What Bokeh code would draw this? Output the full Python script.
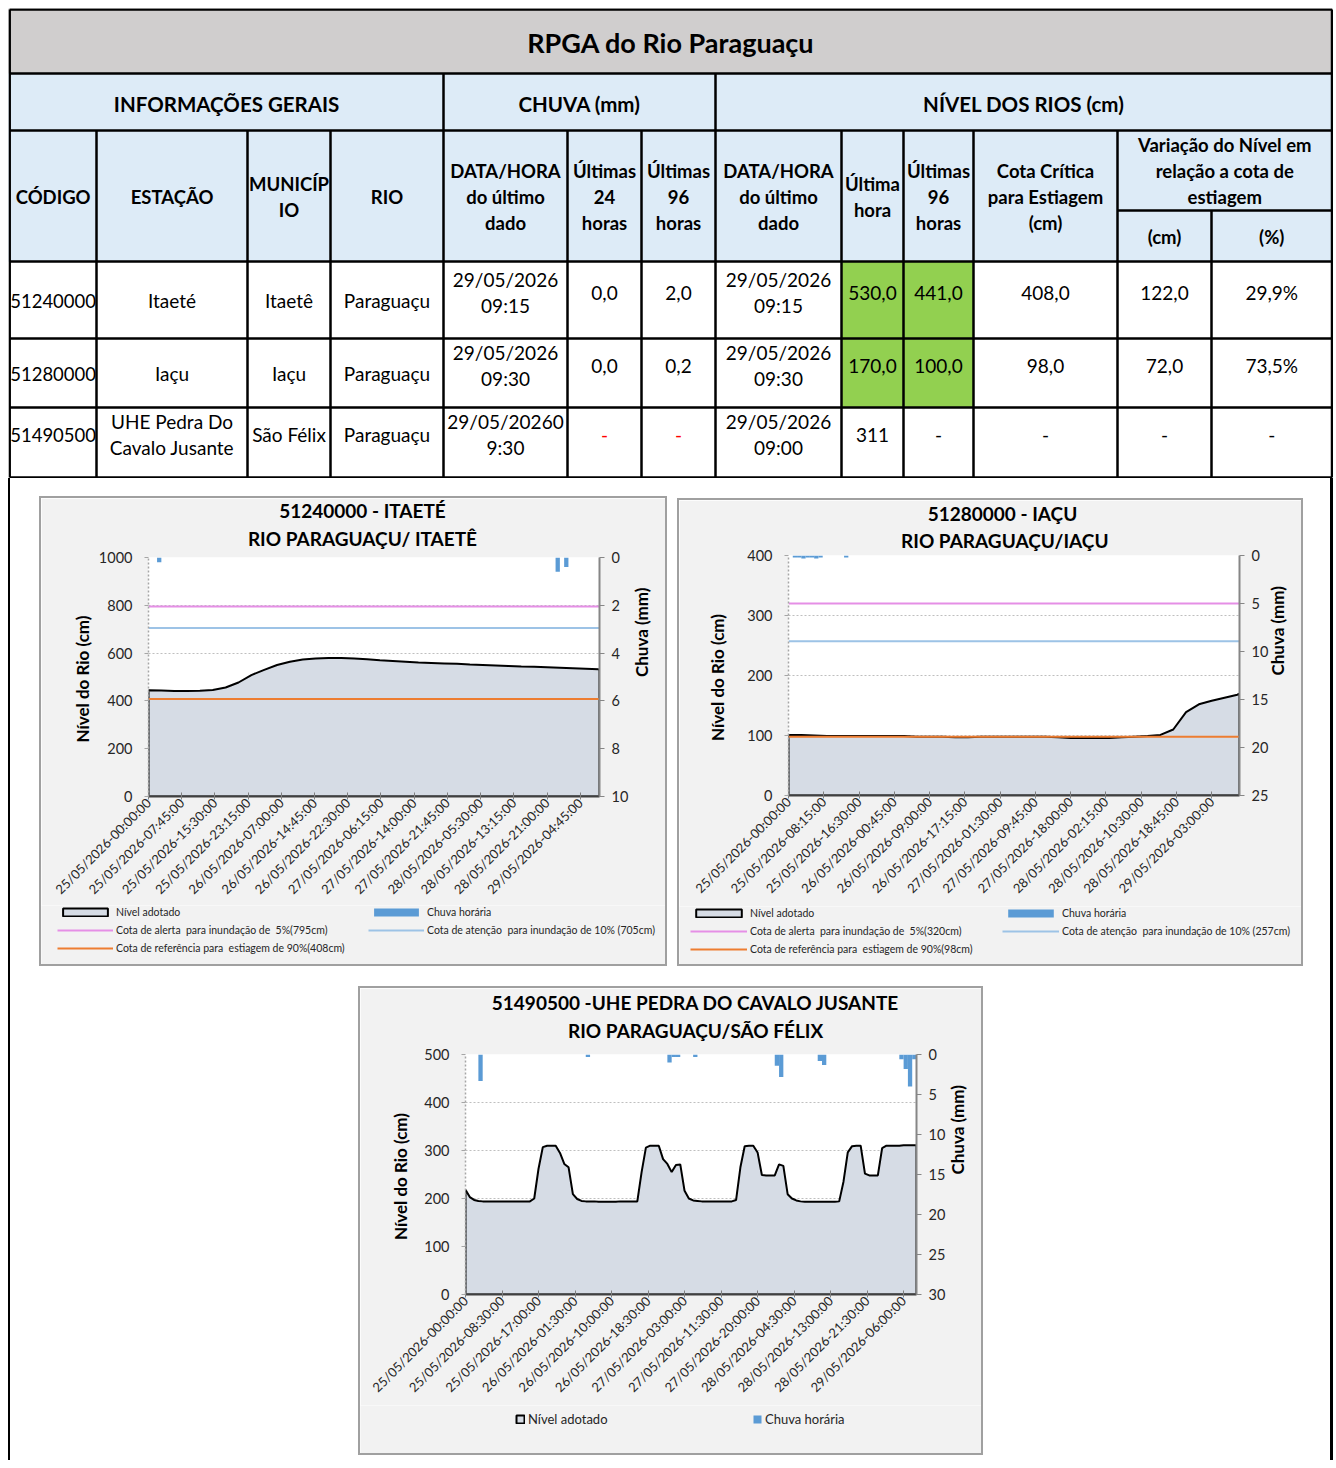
import math
from datetime import datetime

from bokeh.plotting import figure
from bokeh.models import (Range1d, LinearAxis, FixedTicker, Legend, LegendItem,
                          Title, Div, Spacer)
from bokeh.layouts import column, row
from bokeh.core.properties import value
from bokeh.embed import file_html
from bokeh.resources import INLINE

FONT = "Lato"
NB = "\u00a0"

# ---------------- table data ----------------
TABLE_TITLE = "RPGA do Rio Paraguaçu"
SECTIONS = ["INFORMAÇÕES GERAIS", "CHUVA (mm)", "NÍVEL DOS RIOS (cm)"]
HEADERS = ["CÓDIGO", "ESTAÇÃO", "MUNICÍP\nIO", "RIO", "DATA/HORA\ndo último\ndado",
           "Últimas\n24\nhoras", "Últimas\n96\nhoras", "DATA/HORA\ndo último\ndado",
           "Última\nhora", "Últimas\n96\nhoras", "Cota Crítica\npara Estiagem\n(cm)"]
VAR_HEADER = "Variação do Nível em\nrelação a cota de\nestiagem"
VAR_SUB = ["(cm)", "(%)"]
CODES = ["51240000", "51280000", "51490500"]
STATIONS = ["Itaeté", "Iaçu", "UHE Pedra Do\nCavalo Jusante"]
CITIES = ["Itaetê", "Iaçu", "São Félix"]
RIVERS = ["Paraguaçu", "Paraguaçu", "Paraguaçu"]
RAIN_TIME = ["29/05/2026\n09:15", "29/05/2026\n09:30", "29/05/20260\n9:30"]
RAIN_24H = ["0,0", "0,0", "-"]
RAIN_96H = ["2,0", "0,2", "-"]
LEVEL_TIME = ["29/05/2026\n09:15", "29/05/2026\n09:30", "29/05/2026\n09:00"]
LEVEL_LAST = ["530,0", "170,0", "311"]
LEVEL_96H = ["441,0", "100,0", "-"]
COTA_CRIT = ["408,0", "98,0", "-"]
VAR_CM = ["122,0", "72,0", "-"]
VAR_PCT = ["29,9%", "73,5%", "-"]
GREEN_ROWS = [0, 1]

# ---------------- chart data ----------------
START = "25/05/2026-00:00:00"

C1_TITLE = ["51240000 - ITAETÉ", "RIO PARAGUAÇU/ ITAETÊ"]
C1_TICKS = ["25/05/2026-00:00:00", "25/05/2026-07:45:00", "25/05/2026-15:30:00",
            "25/05/2026-23:15:00", "26/05/2026-07:00:00", "26/05/2026-14:45:00",
            "26/05/2026-22:30:00", "27/05/2026-06:15:00", "27/05/2026-14:00:00",
            "27/05/2026-21:45:00", "28/05/2026-05:30:00", "28/05/2026-13:15:00",
            "28/05/2026-21:00:00", "29/05/2026-04:45:00"]
C1_LAST_TIME = "29/05/2026-09:15:00"
C1_LEVEL_3H = [445, 443, 441, 441, 442, 446, 456, 477, 508, 530,
               550, 564, 573, 577, 579, 579, 577, 574, 570, 567,
               564, 561, 559, 557, 555, 552, 550, 548, 546, 544,
               543, 541, 539, 537, 535, 532]
C1_LEVEL_LAST = 530
C1_RAIN_HOUR = [2, 95, 97]
C1_RAIN_MM = [0.2, 0.6, 0.4]
C1_REF = [795, 705, 408]
C1_REF_LABELS = ["Cota de alerta  para inundação de  5%(795cm)",
                 "Cota de atenção  para inundação de 10% (705cm)",
                 "Cota de referência para  estiagem de 90%(408cm)"]

C2_TITLE = ["51280000 - IAÇU", "RIO PARAGUAÇU/IAÇU"]
C2_TICKS = ["25/05/2026-00:00:00", "25/05/2026-08:15:00", "25/05/2026-16:30:00",
            "26/05/2026-00:45:00", "26/05/2026-09:00:00", "26/05/2026-17:15:00",
            "27/05/2026-01:30:00", "27/05/2026-09:45:00", "27/05/2026-18:00:00",
            "28/05/2026-02:15:00", "28/05/2026-10:30:00", "28/05/2026-18:45:00",
            "29/05/2026-03:00:00"]
C2_LAST_TIME = "29/05/2026-09:30:00"
C2_LEVEL_3H = [101, 101, 100, 99, 99, 99, 99, 99, 99, 99,
               98, 98, 98, 97, 97, 98, 98, 98, 98, 98,
               98, 97, 96, 96, 96, 96, 97, 98, 99, 101,
               110, 139, 152, 158, 163, 168]
C2_LEVEL_LAST = 170
C2_RAIN_HOUR = [1, 2, 3, 4, 5, 6, 7, 13]
C2_RAIN_MM = [0.2, 0.2, 0.3, 0.2, 0.2, 0.3, 0.2, 0.2]
C2_REF = [320, 257, 98]
C2_REF_LABELS = ["Cota de alerta  para inundação de  5%(320cm)",
                 "Cota de atenção  para inundação de 10% (257cm)",
                 "Cota de referência para  estiagem de 90%(98cm)"]

C3_TITLE = ["51490500 -UHE PEDRA DO CAVALO JUSANTE", "RIO PARAGUAÇU/SÃO FÉLIX"]
C3_TICKS = ["25/05/2026-00:00:00", "25/05/2026-08:30:00", "25/05/2026-17:00:00",
            "26/05/2026-01:30:00", "26/05/2026-10:00:00", "26/05/2026-18:30:00",
            "27/05/2026-03:00:00", "27/05/2026-11:30:00", "27/05/2026-20:00:00",
            "28/05/2026-04:30:00", "28/05/2026-13:00:00", "28/05/2026-21:30:00",
            "29/05/2026-06:00:00"]
C3_LEVEL_1H = [218, 203, 197, 195, 194, 194, 194, 194, 194, 194, 194, 194, 194, 194, 194, 194,
               200, 262, 307, 310, 310, 310, 295, 272,
               265, 209, 199, 195, 194, 194, 194, 193,
               193, 193, 193, 193, 194, 194, 194, 194,
               194, 255, 306, 310, 310, 310, 282, 272,
               255, 270, 271, 216, 200, 196, 195, 194,
               194, 194, 194, 194, 194, 194, 194, 197,
               265, 309, 310, 310, 296, 249, 248, 248,
               248, 271, 268, 209, 200, 196, 194, 193,
               193, 193, 193, 193, 193, 193, 193, 194,
               235, 296, 309, 310, 310, 252, 248, 248,
               248, 305, 310, 310, 310, 310, 311, 311,
               311, 311]
C3_RAIN_HOUR = [3, 28, 47, 48, 49, 53, 72, 73, 82, 83, 101, 102, 103, 104]
C3_RAIN_MM = [3.3, 0.3, 1.0, 0.3, 0.3, 0.3, 1.4, 2.8, 0.8, 1.3, 0.6, 1.8, 4.0, 0.6]

LEGEND_LEVEL = "Nível adotado"
LEGEND_RAIN = "Chuva horária"

# ---------------- styles ----------------
AREA_FILL = "#d6dce5"
RAIN_BLUE = "#5b9bd5"
REF_COLORS = ["#e58fe6", "#9dc3e6", "#ed7d31"]
CHART_BG = "#f2f2f2"
CHART_BORDER = {"border": "2px solid #a0a0a0"}

T0 = datetime.strptime(START, "%d/%m/%Y-%H:%M:%S")


def steps_from(label):
    dt = datetime.strptime(label, "%d/%m/%Y-%H:%M:%S")
    return int(round((dt - T0).total_seconds() / 900.0))


def no_align(fig):
    try:
        fig.frame_align = False
    except Exception:
        pass


def shifted(text, n):
    """pad with non-breaking spaces: n<0 shifts the centred text left, n>0 right"""
    return (NB * n + text) if n > 0 else (text + NB * (-n))


# ====================== TABLE ======================
TW, TH = 1325, 470
tb = figure(width=TW, height=TH, x_range=Range1d(0, TW), y_range=Range1d(TH, 0),
            x_axis_type=None, y_axis_type=None, min_border=0,
            toolbar_location=None, output_backend="svg", outline_line_color=None,
            background_fill_color="white", border_fill_color="white")
no_align(tb)

XB = [1.2, 88, 239, 322, 435, 559, 633, 707, 833, 895, 965, 1109, 1203, 1323.5]
YB = [1, 65, 122, 253, 330, 399, 469]
Y_SUB = 202

tb.quad(left=[0], right=[TW], top=[0], bottom=[YB[1]], color="#d0cece")
tb.quad(left=[0], right=[TW], top=[YB[1]], bottom=[YB[3]], color="#ddebf7")
for r in GREEN_ROWS:
    tb.quad(left=[XB[8], XB[9]], right=[XB[9], XB[10]],
            top=[YB[3 + r]] * 2, bottom=[YB[4 + r]] * 2, color="#92d050")

sx0, sy0, sx1, sy1 = [], [], [], []
for y in YB:
    sx0.append(XB[0]); sx1.append(XB[-1]); sy0.append(y); sy1.append(y)
sx0.append(XB[11]); sx1.append(XB[-1]); sy0.append(Y_SUB); sy1.append(Y_SUB)
for x in (XB[0], XB[-1]):
    sx0.append(x); sx1.append(x); sy0.append(YB[0]); sy1.append(YB[-1])
for x in (XB[4], XB[7]):
    sx0.append(x); sx1.append(x); sy0.append(YB[1]); sy1.append(YB[2])
for x in XB[1:12]:
    sx0.append(x); sx1.append(x); sy0.append(YB[2]); sy1.append(YB[-1])
sx0.append(XB[12]); sx1.append(XB[12]); sy0.append(Y_SUB); sy1.append(YB[-1])
tb.segment(x0=sx0, y0=sy0, x1=sx1, y1=sy1, line_color="black", line_width=2.5)


def cell(x, y, s, size, bold=False, align="center", color="black", lh=26):
    lines = s.split("\n")
    n = len(lines)
    for k, ln in enumerate(lines):
        tb.text(x=[x], y=[y + (k - (n - 1) / 2) * lh], text=[ln],
                text_font=value(FONT), text_font_size=size,
                text_font_style="bold" if bold else "normal",
                text_align=align, text_baseline="middle", text_color=color)


CX = [(XB[i] + XB[i + 1]) / 2 for i in range(len(XB) - 1)]
cell((XB[0] + XB[-1]) / 2, 34, TABLE_TITLE, "27px", bold=True)
cell((XB[0] + XB[4]) / 2, 95, SECTIONS[0], "20.5px", bold=True)
cell((XB[4] + XB[7]) / 2, 95, SECTIONS[1], "20.5px", bold=True)
cell((XB[7] + XB[-1]) / 2, 95, SECTIONS[2], "20.5px", bold=True)
for i, h in enumerate(HEADERS):
    cell(CX[i], 188, h, "18.5px", bold=True)
cell((XB[11] + XB[-1]) / 2, 162, VAR_HEADER, "18.5px", bold=True)
cell(CX[11], 228, VAR_SUB[0], "18.5px", bold=True)
cell(CX[12], 228, VAR_SUB[1], "18.5px", bold=True)

Y_LAB = [292, 365, 426]
Y_NUM = [284, 357, 426]
for r in range(3):
    cell(XB[0] + 0.5, Y_LAB[r], CODES[r], "18.5px", align="left")
    cell(CX[1], Y_LAB[r], STATIONS[r], "19px")
    cell(CX[2], Y_LAB[r], CITIES[r], "19px")
    cell(CX[3], Y_LAB[r], RIVERS[r], "19px")
    cell(CX[4], Y_NUM[r], RAIN_TIME[r], "19px")
    cell(CX[5], Y_NUM[r], RAIN_24H[r], "19px", color="red" if RAIN_24H[r] == "-" else "black")
    cell(CX[6], Y_NUM[r], RAIN_96H[r], "19px", color="red" if RAIN_96H[r] == "-" else "black")
    cell(CX[7], Y_NUM[r], LEVEL_TIME[r], "19px")
    cell(CX[8], Y_NUM[r], LEVEL_LAST[r], "19px")
    cell(CX[9], Y_NUM[r], LEVEL_96H[r], "19px")
    cell(CX[10], Y_NUM[r], COTA_CRIT[r], "19px")
    cell(CX[11], Y_NUM[r], VAR_CM[r], "19px")
    cell(CX[12], Y_NUM[r], VAR_PCT[r], "19px")


# ====================== CHARTS ======================
def make_chart(W, H, mb, LH, titles, tshift, tstand, ticks, lx, ly, end_x, ymax, ystep,
               rmax, rstep, rain_h, rain_mm, refs, ref_labels, lstand, rstand, legends):
    p = figure(width=W, height=H, x_range=Range1d(0, end_x), y_range=Range1d(0, ymax),
               output_backend="svg", toolbar_location=None,
               min_border_left=mb[0], min_border_right=mb[1],
               min_border_top=mb[2], min_border_bottom=mb[3],
               border_fill_color=CHART_BG, background_fill_color="white",
               outline_line_color=None)
    no_align(p)
    p.extra_y_ranges = {"rain": Range1d(rmax, 0)}

    # titles
    p.title.text = shifted(titles[0], tshift[0])
    p.title.align = "center"
    p.title.text_font = FONT
    p.title.text_font_size = "19px"
    p.title.text_font_style = "bold"
    p.title.text_color = "black"
    p.title.standoff = tstand[0]
    p.add_layout(Title(text=shifted(titles[1], tshift[1]), align="center", text_font=FONT,
                       text_font_size="19px", text_font_style="bold", text_color="black",
                       standoff=tstand[1]), "above")

    # x axis
    xa = p.xaxis[0]
    tpos = [steps_from(t) for t in ticks]
    xa.ticker = FixedTicker(ticks=tpos)
    xa.major_label_overrides = {k: t for k, t in zip(tpos, ticks)}
    xa.major_label_orientation = math.pi / 4
    xa.major_label_text_font = FONT
    xa.major_label_text_font_size = "13px"
    xa.major_label_text_color = "#262626"
    xa.major_label_standoff = 1
    xa.axis_line_color = "#404040"
    xa.axis_line_width = 2
    xa.major_tick_line_color = "#7f7f7f"
    xa.major_tick_in = 4
    xa.major_tick_out = 3
    xa.minor_tick_line_color = None
    p.xgrid.visible = False

    # left axis
    ya = p.yaxis[0]
    ya.ticker = FixedTicker(ticks=list(range(0, ymax + 1, ystep)))
    ya.axis_label = "Nível do Rio  (cm)"
    ya.axis_label_text_font = FONT
    ya.axis_label_text_font_size = "17px"
    ya.axis_label_text_font_style = "bold"
    ya.axis_label_text_color = "black"
    ya.axis_label_standoff = lstand
    ya.major_label_text_font = FONT
    ya.major_label_text_font_size = "14.5px"
    ya.major_label_text_color = "#262626"
    ya.major_label_standoff = 12
    ya.axis_line_color = "#a6a6a6"
    ya.axis_line_dash = "2 2"
    ya.axis_line_width = 1.5
    ya.major_tick_line_color = "#a6a6a6"
    ya.major_tick_in = 0
    ya.major_tick_out = 4
    ya.minor_tick_line_color = None
    p.ygrid.ticker = ya.ticker
    p.ygrid.grid_line_color = "#bfbfbf"
    p.ygrid.grid_line_dash = "2 2"
    p.ygrid.grid_line_width = 1.2

    # right axis (rain, inverted)
    ra = LinearAxis(y_range_name="rain", ticker=FixedTicker(ticks=list(range(0, rmax + 1, rstep))),
                    axis_label="Chuva (mm)")
    ra.axis_label_text_font = FONT
    ra.axis_label_text_font_size = "17px"
    ra.axis_label_text_font_style = "bold"
    ra.axis_label_text_color = "black"
    ra.axis_label_standoff = rstand
    ra.major_label_text_font = FONT
    ra.major_label_text_font_size = "14.5px"
    ra.major_label_text_color = "#262626"
    ra.major_label_standoff = 7
    ra.axis_line_color = "#868686"
    ra.axis_line_width = 2
    ra.major_tick_line_color = "#868686"
    ra.major_tick_in = 0
    ra.major_tick_out = 5
    ra.minor_tick_line_color = None
    try:
        ra.axis_label_orientation = math.pi / 2
    except Exception:
        pass
    p.add_layout(ra, "right")

    # level area
    xs = [lx[0]] + list(lx) + [lx[-1]]
    ys = [0] + list(ly) + [0]
    p.patch(xs, ys, fill_color=AREA_FILL, line_color="black", line_width=2)

    # reference lines
    for v, c in zip(refs, REF_COLORS):
        p.line([0, end_x], [v, v], line_color=c, line_width=2)

    # rain bars (hourly)
    p.vbar(x=[4 * h + 2 for h in rain_h], width=4, top=rain_mm, bottom=0,
           y_range_name="rain", fill_color=RAIN_BLUE, line_color=None)

    # ---- legend strip: Bokeh Legend with proxy renderers kept outside the view ----
    lf = figure(width=W, height=LH, x_range=Range1d(0, 1), y_range=Range1d(0, 1),
                x_axis_type=None, y_axis_type=None, min_border=0,
                toolbar_location=None, output_backend="svg", outline_line_color=None,
                background_fill_color=CHART_BG, border_fill_color=CHART_BG)
    no_align(lf)
    proxies = {
        "area": (LEGEND_LEVEL, lf.patch(x=[5, 6, 6], y=[5, 5, 6], fill_color=AREA_FILL,
                                        line_color="black", line_width=2)),
        "rain": (LEGEND_RAIN, lf.vbar(x=[5], top=[6], bottom=[5], width=1,
                                      fill_color=RAIN_BLUE, line_color=None)),
    }
    for i, (lab, c) in enumerate(zip(ref_labels, REF_COLORS)):
        proxies["ref%d" % i] = (lab, lf.line(x=[5, 6], y=[5, 5], line_color=c, line_width=2))
    for keys, loc, gw, gh, lh, fs, stand in legends:
        items = [LegendItem(label=proxies[k][0], renderers=[proxies[k][1]]) for k in keys]
        lg = Legend(items=items, location=loc, orientation="vertical",
                    glyph_width=gw, glyph_height=gh, label_height=lh, spacing=5,
                    padding=0, margin=0, label_standoff=stand,
                    label_text_font=FONT, label_text_font_size=fs,
                    label_text_color="#262626",
                    background_fill_alpha=0, border_line_alpha=0)
        lf.add_layout(lg)
    return column(p, lf, styles=CHART_BORDER)


x1 = [12 * i for i in range(len(C1_LEVEL_3H))] + [steps_from(C1_LAST_TIME)]
y1 = C1_LEVEL_3H + [C1_LEVEL_LAST]
box1 = make_chart(624, 407, (107, 65, 59, 108), 59, C1_TITLE, (-5, -5), (-11, 16), C1_TICKS,
                  x1, y1, steps_from(C1_LAST_TIME), 1000, 200, 10, 2, C1_RAIN_HOUR, C1_RAIN_MM,
                  C1_REF, C1_REF_LABELS, 3, 10,
                  [(["area", "ref0", "ref2"], (16, 10), 56, 10, 13, "10.5px", 3),
                   (["rain", "ref1"], (327, 28), 56, 10, 13, "10.5px", 3)])

x2 = [12 * i for i in range(len(C2_LEVEL_3H))] + [steps_from(C2_LAST_TIME)]
y2 = C2_LEVEL_3H + [C2_LEVEL_LAST]
box2 = make_chart(622, 406, (109, 61, 55, 111), 58, C2_TITLE, (-5, -4), (-5, 8), C2_TICKS,
                  x2, y2, steps_from(C2_LAST_TIME), 400, 100, 25, 5, C2_RAIN_HOUR, C2_RAIN_MM,
                  C2_REF, C2_REF_LABELS, 16, 6,
                  [(["area", "ref0", "ref2"], (11, 9), 57, 10, 13, "10.5px", 3),
                   (["rain", "ref1"], (323, 27), 57, 10, 13, "10.5px", 3)])

x3 = [4 * i for i in range(len(C3_LEVEL_1H))]
box3 = make_chart(621, 417, (105, 64, 66, 111), 48, C3_TITLE, (2, 2), (-21, 26), C3_TICKS,
                  x3, C3_LEVEL_1H, x3[-1], 500, 100, 30, 5, C3_RAIN_HOUR, C3_RAIN_MM,
                  [], [], 10, 9,
                  [(["area"], (155, 26), 10, 10, 16, "13px", 3),
                   (["rain"], (392, 26), 10, 10, 16, "13px", 3)])

# ====================== PAGE LAYOUT ======================
inner = column(
    Spacer(width=1320, height=18),
    row(Spacer(width=29, height=470), box1, Spacer(width=10, height=470),
        column(Spacer(width=626, height=2), box2)),
    Spacer(width=1320, height=20),
    row(Spacer(width=348, height=469), box3),
    Spacer(width=1320, height=5),
)
lower = row(Div(width=2, height=982, margin=0, styles={"background-color": "black"}),
            inner,
            Div(width=3, height=982, margin=0, styles={"background-color": "black"}))
page = row(Spacer(width=8, height=1460),
           column(Spacer(width=1325, height=8), tb, lower))

open("out.html", "w", encoding="utf-8").write(file_html(page, INLINE))
